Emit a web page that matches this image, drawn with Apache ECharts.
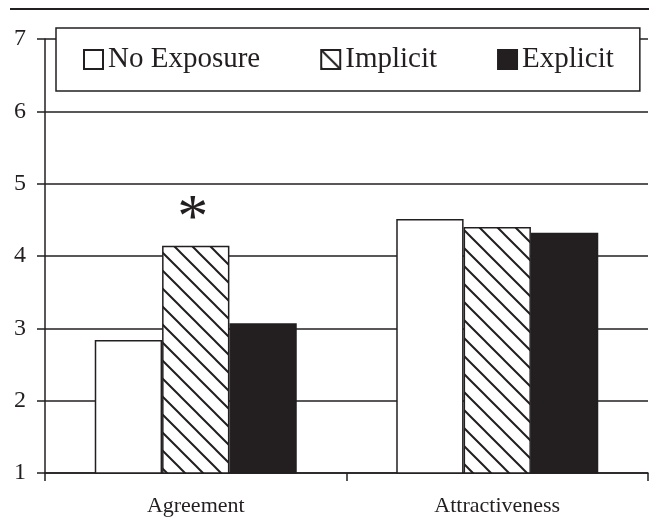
<!DOCTYPE html>
<html>
<head>
<meta charset="utf-8">
<script src="https://cdn.jsdelivr.net/npm/echarts@6/dist/echarts.min.js"></script>
<style>
html,body{margin:0;padding:0;background:#fff;}
#c{width:649px;height:517px;}
</style>
</head>
<body>
<div id="c"></div>
<script>
var categories = ['Agreement', 'Attractiveness'];
var seriesNames = ['No Exposure', 'Implicit', 'Explicit'];
var noExposure = [2.84, 4.51];
var implicit = [4.14, 4.40];
var explicit = [3.07, 4.32];
var implicitMarks = ['*', ''];
var yTicks = [1, 2, 3, 4, 5, 6, 7];

var INK = '#231f20';
var SERIF = '"Liberation Serif", "Times New Roman", serif';

function hatch() {
  var s = 18;
  var cv = document.createElement('canvas');
  cv.width = s; cv.height = s;
  var g = cv.getContext('2d');
  g.fillStyle = '#fff';
  g.fillRect(0, 0, s, s);
  g.strokeStyle = INK;
  g.lineWidth = 2;
  g.beginPath();
  g.moveTo(-2, -2); g.lineTo(s + 2, s + 2);
  g.moveTo(-2, s - 2); g.lineTo(2, s + 2);
  g.moveTo(s - 2, -2); g.lineTo(s + 2, 2);
  g.stroke();
  return cv;
}

var chart = echarts.init(document.getElementById('c'), null, {renderer: 'canvas'});
var itemBase = {borderColor: INK, borderWidth: 1.5};

chart.setOption({
  animation: false,
  backgroundColor: '#fff',
  graphic: [{
    type: 'line',
    shape: {x1: 10, y1: 9, x2: 649, y2: 9},
    style: {stroke: INK, lineWidth: 2}
  }],
  legend: {
    left: 56,
    top: 28,
    padding: [17, 26, 17, 27],
    itemGap: 60,
    itemWidth: 19,
    itemHeight: 19,
    icon: 'rect',
    backgroundColor: '#fff',
    borderColor: INK,
    borderWidth: 1.5,
    textStyle: {fontFamily: SERIF, fontSize: 29, color: INK},
    data: seriesNames
  },
  grid: {left: 45, right: 1, top: 39, bottom: 44},
  xAxis: {
    type: 'category',
    data: categories,
    axisLine: {lineStyle: {color: INK, width: 1.5}},
    axisTick: {show: true, length: 8, lineStyle: {color: INK, width: 1.5}},
    axisLabel: {fontFamily: SERIF, fontSize: 22, color: INK, margin: 22}
  },
  yAxis: {
    type: 'value',
    min: yTicks[0],
    max: yTicks[yTicks.length - 1],
    interval: 1,
    axisLine: {show: true, lineStyle: {color: INK, width: 1.5}},
    axisTick: {show: true, length: 8, lineStyle: {color: INK, width: 1.5}},
    axisLabel: {fontFamily: SERIF, fontSize: 24, color: INK, margin: 19},
    splitLine: {show: true, lineStyle: {color: INK, width: 1.5}}
  },
  series: [
    {
      name: seriesNames[0], type: 'bar', data: noExposure,
      barGap: '0%', barCategoryGap: '33%',
      itemStyle: Object.assign({color: '#fff'}, itemBase)
    },
    {
      name: seriesNames[1], type: 'bar',
      data: implicit.map(function (v, i) {
        return {
          value: v,
          label: {
            show: implicitMarks[i] !== '',
            position: 'top',
            formatter: implicitMarks[i],
            fontFamily: SERIF,
            fontSize: 62,
            color: INK,
            offset: [-3, 10]
          }
        };
      }),
      barGap: '0%', barCategoryGap: '33%',
      itemStyle: Object.assign({color: {image: hatch(), repeat: 'repeat'}}, itemBase)
    },
    {
      name: seriesNames[2], type: 'bar', data: explicit,
      barGap: '0%', barCategoryGap: '33%',
      itemStyle: Object.assign({color: INK}, itemBase)
    }
  ]
});
</script>
</body>
</html>
